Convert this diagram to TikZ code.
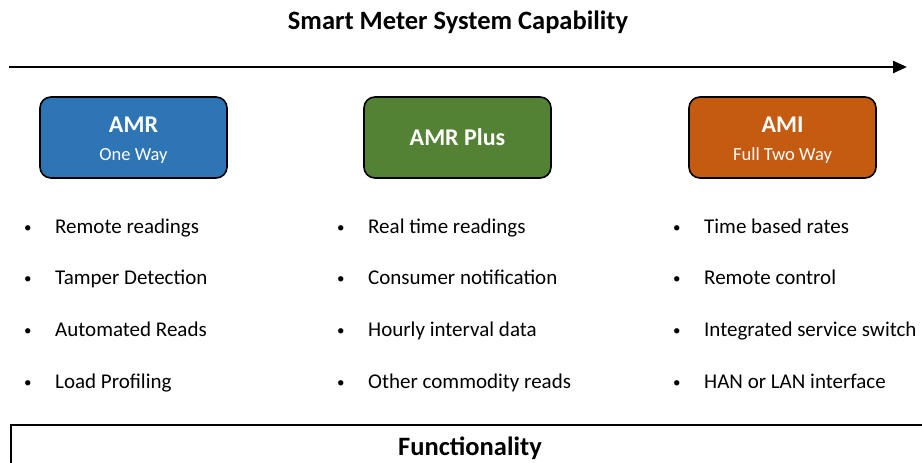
\documentclass[tikz,border=0pt]{standalone}
\usepackage{fontspec}
\setmainfont{Carlito}
\usetikzlibrary{arrows.meta, positioning}

\definecolor{amrblue}{HTML}{2E75B6}
\definecolor{plusgreen}{HTML}{548235}
\definecolor{amiorange}{HTML}{C55A11}

\newcommand{\itemdot}{\makebox[31pt][l]{\raisebox{1pt}{\fontsize{15}{15}\selectfont\textbullet}}}

\begin{document}
\begin{tikzpicture}[x=1pt,y=-1pt,
    stage/.style={rectangle, rounded corners=11pt, draw=black, line width=1.6pt, text=white,
      minimum width=187pt, minimum height=81pt, align=center, inner sep=0pt,
      font=\fontsize{24}{26}\selectfont\bfseries},
    stagetext/.style={text=white, align=center, inner sep=0pt, font=\fontsize{24}{26}\selectfont\bfseries},
    item/.style={anchor=base west, inner sep=0pt, font=\fontsize{21}{24}\selectfont},
    heading/.style={anchor=base, font=\fontsize{26.5}{30}\selectfont\bfseries}]
		\clip (0,0) rectangle (922,463);
		\useasboundingbox (0,0) rectangle (922,463);

		\node[heading] (title) at (458,29) {Smart Meter System Capability};
		\coordinate (start) at (9,67);
		\coordinate (end) at (907,67);
		\draw[line width=2.4pt, -{Stealth[length=14pt,width=12pt,inset=0pt]}] (start) -- (end);

		% stages
		\node[stage, fill=amrblue] (amr) at (133.5,137.5) {};
		\node[stagetext] (amrtext) at ([yshift=-2.5pt]amr.center) {AMR\\[2pt]{\fontsize{18.5}{22}\selectfont\mdseries One Way}};
		\node[stage, fill=plusgreen] (plus) at (457.5,137.5) {AMR Plus};
		\node[stage, fill=amiorange] (ami) at (782.5,137.5) {};
		\node[stagetext] (amitext) at ([yshift=-2.5pt]ami.center) {AMI\\[2pt]{\fontsize{18.5}{22}\selectfont\mdseries Full Two Way}};

		% AMR items
		\node[item] (amr1) at (24,233) {\itemdot Remote readings};
		\node[item] (amr2) at (24,284) {\itemdot Tamper Detection};
		\node[item] (amr3) at (24,336) {\itemdot Automated Reads};
		\node[item] (amr4) at (24,388) {\itemdot Load Profiling};

		% AMR Plus items
		\node[item] (plus1) at (337,233) {\itemdot Real time readings};
		\node[item] (plus2) at (337,284) {\itemdot Consumer notification};
		\node[item] (plus3) at (337,336) {\itemdot Hourly interval data};
		\node[item] (plus4) at (337,388) {\itemdot Other commodity reads};

		% AMI items
		\node[item] (ami1) at (673,233) {\itemdot Time based rates};
		\node[item] (ami2) at (673,284) {\itemdot Remote control};
		\node[item] (ami3) at (673,336) {\itemdot Integrated service switch};
		\node[item] (ami4) at (673,388) {\itemdot HAN or LAN interface};

		\node[draw=black, line width=1.6pt, anchor=north west, minimum width=930pt, minimum height=60pt, inner sep=0pt] (func) at (10,424) {};
		\node[heading] (functext) at (470,455) {Functionality};
\end{tikzpicture}
\end{document}
